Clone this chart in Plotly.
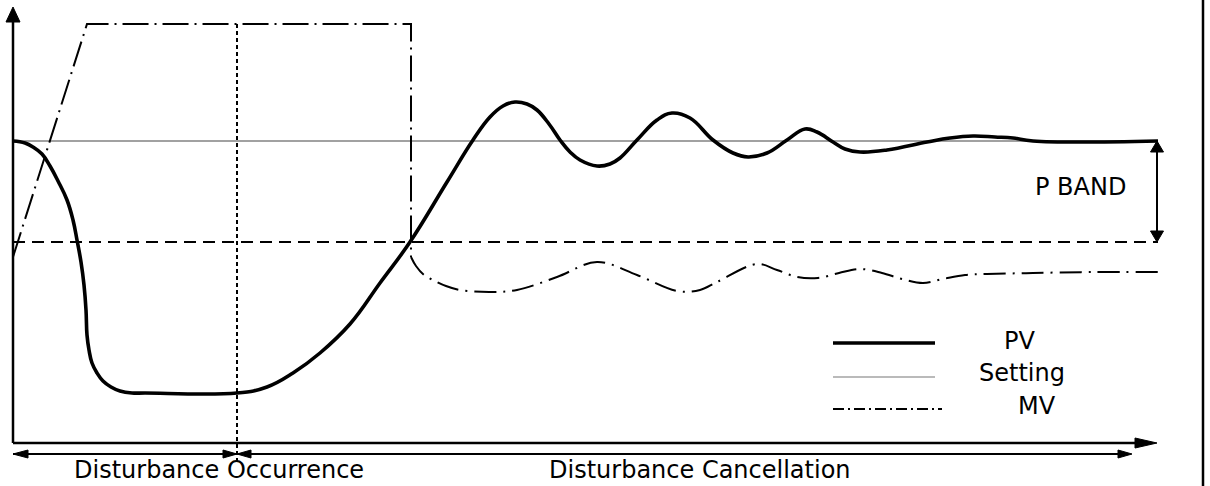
import plotly.graph_objects as go

# ---------------- data (time t, value v) ----------------
pv_t = [0, 12, 20, 29, 37, 45, 54, 60, 64, 68, 71, 73, 74, 76, 79, 84, 90, 98, 107, 119, 132,
        224, 254, 280, 307, 337, 367, 397, 434, 460, 477, 490, 502, 514, 524, 536, 547, 557, 567,
        584, 597, 607, 624, 644, 659, 677, 700, 720, 735, 754, 774, 792, 804, 820, 832, 847, 874,
        914, 937, 960, 982, 1000, 1020, 1145]
pv_v = [302, 300, 296, 289, 277, 262, 243, 223, 203, 181, 158, 133, 108, 93, 80, 70, 62, 56, 52, 50, 50,
        50, 56, 70, 90, 119, 160, 201, 261, 303, 326, 337, 341, 339, 333, 319, 303, 291, 283,
        277, 279, 285, 303, 323, 330, 325, 303, 290, 286, 290, 303, 314, 311, 301, 294, 291, 293,
        301, 305, 307, 306, 305, 302, 302]

mv_ramp_t = [0, 74, 398, 398]
mv_ramp_v = [186, 419, 419, 186]
mv_t = [398, 403, 411, 420, 433, 447, 477, 504, 544, 584, 624, 664, 687, 704, 744, 764, 784, 805,
        826, 847, 869, 889, 910, 930, 952, 974, 1020, 1080, 1145]
mv_v = [186, 177, 168, 163, 157, 153, 151, 153, 166, 181, 168, 152, 153, 161, 179, 173, 166, 165,
        170, 174, 170, 164, 160, 164, 168, 169, 170, 171, 171]

setting_v = 302
pband_low_v = 201
t_end = 1145
t_disturb = 224
mv_max = 419

labels_bottom = ["Disturbance Occurrence", "Disturbance Cancellation"]
legend_names = ["PV", "Setting", "MV"]
pband_label = "P BAND"

# ---------------- figure ----------------
BLACK = "#000000"
FONT = "DejaVu Sans"
fig = go.Figure()


def line(xs, ys, width, dash="solid", color=BLACK, shape="linear", smoothing=1.0):
    fig.add_trace(go.Scatter(x=xs, y=ys, mode="lines", hoverinfo="skip",
                             line=dict(color=color, width=width, dash=dash, shape=shape,
                                       smoothing=smoothing)))


def head(tip_x, tip_y, dx, dy, length, width):
    # filled triangular arrowhead pointing along (dx, dy)
    bx, by = tip_x - dx * length, tip_y - dy * length
    px, py = -dy * width / 2, dx * width / 2
    fig.add_trace(go.Scatter(x=[tip_x, bx + px, bx - px, tip_x], y=[tip_y, by + py, by - py, tip_y],
                             mode="lines", fill="toself", fillcolor=BLACK, hoverinfo="skip",
                             line=dict(color=BLACK, width=1)))


# setting line
line([0, t_end], [setting_v, setting_v], 1.2, color="#444444")
# P band lower limit
line([0, t_end], [pband_low_v, pband_low_v], 2, dash="12px,7px")
# disturbance dotted line
line([t_disturb, t_disturb], [mv_max, -19], 2, dash="4px,3px")
# MV
line(mv_ramp_t, mv_ramp_v, 2, dash="26px,6px,2px,6px")
line(mv_t, mv_v, 2, dash="22px,7px,2px,7px", shape="spline")
# PV
line(pv_t, pv_v, 3.6, shape="spline", smoothing=1.2)

# axes
line([0, 0], [0, 422], 2.5)
head(0, 436, 0, 1, 15, 14)
line([0, 1122], [0, 0], 2.5)
head(1144, 0, 1, 0, 22, 10)

# disturbance range arrows
line([0, 1108], [-11, -11], 2)
head(0, -11, -1, 0, 15, 8)
head(t_disturb, -11, 1, 0, 14, 8)
head(t_disturb, -11, -1, 0, 14, 8)
head(1119, -11, 1, 0, 14, 8)

# P band arrow
line([1144, 1144], [setting_v - 8, pband_low_v + 8], 2)
head(1144, setting_v, 0, 1, 11, 13)
head(1144, pband_low_v, 0, -1, 11, 13)

# legend samples
line([820, 922], [100, 100], 3.6)
line([820, 922], [66, 66], 1.2, color="#777777")
line([820, 929], [34, 34], 2, dash="11px,4px,2px,4px")

ann = [
    dict(x=206, y=-42, text=labels_bottom[0], ya="bottom"),
    dict(x=687, y=-42, text=labels_bottom[1], ya="bottom"),
    dict(x=1067, y=256, text=pband_label, ya="middle"),
    dict(x=1006, y=102, text=legend_names[0], ya="middle"),
    dict(x=1009, y=70, text=legend_names[1], ya="middle"),
    dict(x=1024, y=37, text=legend_names[2], ya="middle"),
]
for a in ann:
    fig.add_annotation(x=a["x"], y=a["y"], text=a["text"], showarrow=False,
                       xanchor="center", yanchor=a["ya"], borderpad=0,
                       font=dict(family=FONT, size=24, color=BLACK))

# right frame border
fig.add_shape(type="line", xref="x", yref="paper", x0=1190, x1=1190, y0=0, y1=1,
              line=dict(color=BLACK, width=2.5))

fig.update_layout(
    width=1210, height=486, autosize=False,
    margin=dict(l=0, r=0, t=0, b=0),
    paper_bgcolor="white", plot_bgcolor="white",
    showlegend=False,
    xaxis=dict(range=[-13, 1197], visible=False, fixedrange=True),
    yaxis=dict(range=[-43, 443], visible=False, fixedrange=True),
)

fig.write_html("out.html", config={"displayModeBar": False},
               post_script="document.body.style.margin='0';document.body.style.padding='0';"
                           "document.body.style.overflow='hidden';")
